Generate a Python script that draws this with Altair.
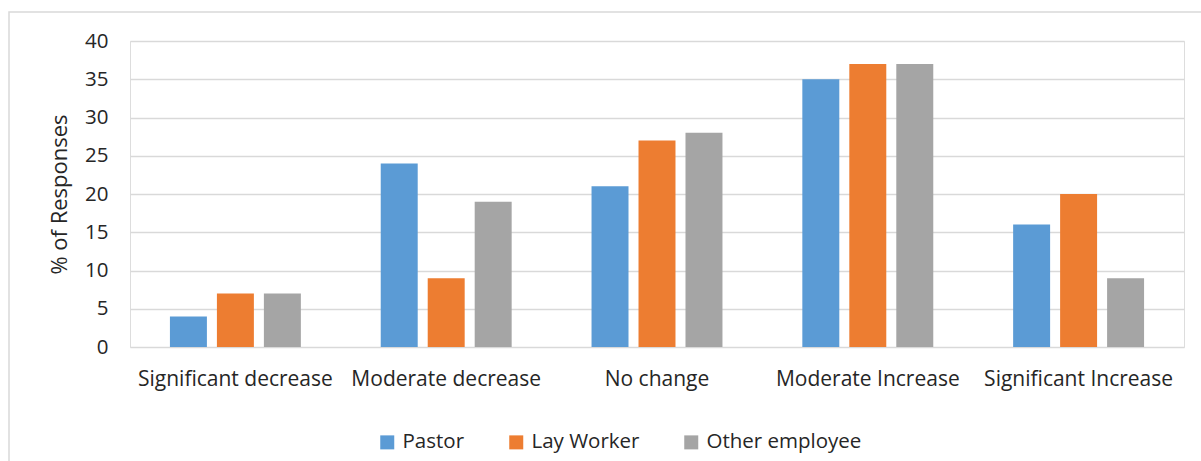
import altair as alt
import pandas as pd

categories = ["Significant decrease", "Moderate decrease", "No change",
              "Moderate Increase", "Significant Increase"]
series = ["Pastor", "Lay Worker", "Other employee"]
pastor = [4, 24, 21, 35, 16]
lay_worker = [7, 9, 27, 37, 20]
other_employee = [7, 19, 28, 37, 9]
colors = ["#5B9BD5", "#ED7D31", "#A5A5A5"]

rows = []
for name, vals in zip(series, [pastor, lay_worker, other_employee]):
    for cat, v in zip(categories, vals):
        rows.append({"category": cat, "group": name, "value": v})
df = pd.DataFrame(rows)

FONT = "Open Sans"
TEXT = "#262626"
W, H = 1054, 306

bars = alt.Chart(df).mark_bar().encode(
    x=alt.X("category:N", sort=categories,
            scale=alt.Scale(paddingInner=0, paddingOuter=0),
            axis=alt.Axis(title=None, labelAngle=0, domain=False, ticks=False,
                          labelFontSize=21, labelColor=TEXT, labelLimit=400,
                          labelPadding=21, labelFont=FONT)),
    xOffset=alt.XOffset("group:N", sort=series,
                        scale=alt.Scale(paddingInner=0.213, paddingOuter=0.85)),
    y=alt.Y("value:Q", scale=alt.Scale(domain=[0, 40]),
            axis=alt.Axis(title="% of Responses", values=list(range(0, 45, 5)),
                          domain=False, ticks=False, grid=True,
                          gridColor="#d9d9d9", gridWidth=1.5,
                          labelFontSize=20.5, labelColor=TEXT,
                          labelPadding=22, labelFont=FONT,
                          titleFont=FONT, titleFontSize=22,
                          titleFontWeight="normal", titleColor=TEXT,
                          titleX=-71, titleY=H / 2, titleAngle=-90,
                          titleAlign="center", titleBaseline="middle")),
    color=alt.Color("group:N", sort=series,
                    scale=alt.Scale(domain=series, range=colors),
                    legend=alt.Legend(title=None, orient="none", direction="horizontal",
                                      legendX=247, legendY=391, padding=0,
                                      symbolType="square", symbolSize=196,
                                      symbolStrokeWidth=0, symbolOpacity=1,
                                      labelFont=FONT, labelFontSize=20.5,
                                      labelColor=TEXT, labelOffset=5,
                                      labelLimit=300, columnPadding=41)),
)

frame = alt.Chart(alt.Data(values=[{}])).mark_rect(
    fill=None, stroke="#d9d9d9", strokeWidth=1.5
).encode(
    x=alt.value(-121), x2=alt.value(W + 40),
    y=alt.value(-29), y2=alt.value(H + 140),
)

chart = alt.layer(frame, bars).properties(
    width=W, height=H,
    autosize=alt.AutoSizeParams(type="none"),
    padding={"left": 130, "top": 41, "right": 17, "bottom": 114},
).configure_view(stroke=None).configure(background="white")

chart.save("out.html", embed_options={"renderer": "svg", "actions": False})
